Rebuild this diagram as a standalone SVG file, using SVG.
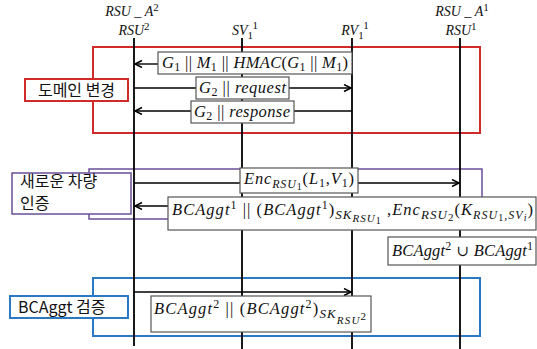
<svg xmlns="http://www.w3.org/2000/svg" width="537" height="349" viewBox="0 0 537 349">
<defs>
<style>
.m{font-family:"Liberation Serif",serif;font-size:16.5px;font-style:italic;fill:#111}
.h{font-family:"Liberation Serif",serif;font-size:14px;font-style:italic;fill:#111}
.u{font-style:normal}
.kr{font-family:"Noto Sans CJK KR","Noto Sans",sans-serif;font-size:16px;fill:#111}
.life{stroke:#000;stroke-width:1.8;fill:none}
.msg{stroke:#000;stroke-width:1.4;fill:none}
.box{fill:#fff;stroke:#555;stroke-width:1.2}
</style>
<marker id="ah" markerWidth="10" markerHeight="10" refX="8" refY="4" orient="auto" markerUnits="userSpaceOnUse">
<path d="M1,0.5 L8,4 L1,7.5" fill="none" stroke="#000" stroke-width="1.5"/>
</marker>
</defs>
<rect width="537" height="349" fill="#fff"/>

<g id="headers">
<text class="h" x="132" y="16" text-anchor="middle">RSU<tspan class="u"> _ </tspan>A<tspan font-size="11" dy="-5" class="u">2</tspan></text>
<text class="h" x="134" y="35" text-anchor="middle">RSU<tspan font-size="11" dy="-5" class="u">2</tspan></text>
<text class="h" x="245" y="35" text-anchor="middle">SV<tspan font-size="11" dy="4" class="u">1</tspan><tspan font-size="11" dy="-10" class="u">1</tspan></text>
<text class="h" x="355" y="35" text-anchor="middle">RV<tspan font-size="11" dy="4" class="u">1</tspan><tspan font-size="11" dy="-10" class="u">1</tspan></text>
<text class="h" x="462" y="16" text-anchor="middle">RSU<tspan class="u"> _ </tspan>A<tspan font-size="11" dy="-5" class="u">1</tspan></text>
<text class="h" x="461" y="35" text-anchor="middle">RSU<tspan font-size="11" dy="-5" class="u">1</tspan></text>
</g>

<g id="groups">
<rect id="grp-domain" x="93" y="47" width="387" height="86" fill="none" stroke="#d02a2a" stroke-width="2"/>
<rect id="grp-auth" x="89" y="169" width="393" height="50" fill="none" stroke="#6a4f96" stroke-width="1.5"/>
<rect id="grp-verify" x="93" y="278" width="387" height="58" fill="none" stroke="#2b79c4" stroke-width="2"/>
</g>

<g id="lifelines">
<line class="life" x1="134" y1="38" x2="134" y2="346"/>
<line class="life" x1="242" y1="38" x2="242" y2="349"/>
<line class="life" x1="352" y1="38" x2="352" y2="349"/>
<line class="life" x1="460" y1="38" x2="460" y2="349"/>
</g>

<g id="connectors">
<line class="msg" x1="158" y1="64" x2="135" y2="64" marker-end="url(#ah)"/>
<line class="msg" x1="134" y1="88" x2="196" y2="88"/>
<line class="msg" x1="289" y1="88" x2="351" y2="88" marker-end="url(#ah)"/>
<line class="msg" x1="352" y1="111" x2="294" y2="111"/>
<line class="msg" x1="191" y1="111" x2="135" y2="111" marker-end="url(#ah)"/>
<line class="msg" x1="134" y1="183" x2="240" y2="183"/>
<line class="msg" x1="358" y1="183" x2="459" y2="183" marker-end="url(#ah)"/>
<line class="msg" x1="168" y1="206" x2="135" y2="206" marker-end="url(#ah)"/>
<line class="msg" x1="134" y1="292" x2="351" y2="292" marker-end="url(#ah)"/>
</g>

<g id="label-domain">
<rect x="25" y="79" width="103" height="22" fill="#fff" stroke="#d02a2a" stroke-width="2"/>
<text class="kr" x="76.5" y="96" text-anchor="middle">도메인 변경</text>
</g>
<g id="label-auth">
<rect x="12" y="173" width="119" height="41" fill="#fff" stroke="#6a4f96" stroke-width="1.5"/>
<text class="kr" x="20" y="187" font-size="15.5">새로운 차량</text>
<text class="kr" x="20" y="209" font-size="15.5">인증</text>
</g>
<g id="label-verify">
<rect x="10" y="296" width="118" height="22" fill="#fff" stroke="#2b79c4" stroke-width="2"/>
<text class="kr" x="18" y="313">BCAggt 검증</text>
</g>

<g id="msg1">
<rect class="box" x="158" y="52" width="194" height="22"/>
<text class="m" x="162" y="68" textLength="186" lengthAdjust="spacing">G<tspan class="u" font-size="12" dy="3">1</tspan><tspan class="u" dy="-3"> || </tspan>M<tspan class="u" font-size="12" dy="3">1</tspan><tspan class="u" dy="-3"> || </tspan>HMAC<tspan class="u">(</tspan>G<tspan class="u" font-size="12" dy="3">1</tspan><tspan class="u" dy="-3"> || </tspan>M<tspan class="u" font-size="12" dy="3">1</tspan><tspan class="u" dy="-3">)</tspan></text>
</g>
<g id="msg2">
<rect class="box" x="196" y="77" width="93" height="22"/>
<text class="m" x="199" y="93" textLength="87" lengthAdjust="spacing">G<tspan class="u" font-size="12" dy="3">2</tspan><tspan class="u" dy="-3"> || </tspan>request</text>
</g>
<g id="msg3">
<rect class="box" x="191" y="101" width="103" height="22"/>
<text class="m" x="194" y="117" textLength="96" lengthAdjust="spacing">G<tspan class="u" font-size="12" dy="3">2</tspan><tspan class="u" dy="-3"> || </tspan>response</text>
</g>
<g id="msg4">
<rect class="box" x="240" y="168" width="118" height="25"/>
<text class="m" x="244" y="184" textLength="110" lengthAdjust="spacing">Enc<tspan font-size="12" dy="4">RSU</tspan><tspan class="u" font-size="10" dy="2">1</tspan><tspan class="u" dy="-6">(</tspan>L<tspan class="u" font-size="12" dy="3">1</tspan><tspan class="u" dy="-3">,</tspan>V<tspan class="u" font-size="12" dy="3">1</tspan><tspan class="u" dy="-3">)</tspan></text>
</g>
<g id="msg5">
<rect class="box" x="168" y="197" width="368" height="33"/>
<text class="m" x="172" y="215" textLength="361" lengthAdjust="spacing">BCAggt<tspan class="u" font-size="12" dy="-6">1</tspan><tspan class="u" dy="6"> || (</tspan>BCAggt<tspan class="u" font-size="12" dy="-6">1</tspan><tspan class="u" dy="6">)</tspan><tspan font-size="13" dy="4">SK</tspan><tspan font-size="11" dy="3">RSU</tspan><tspan class="u" font-size="10" dy="2">1</tspan><tspan class="u" dy="-9"> ,</tspan>Enc<tspan font-size="13" dy="4">RSU</tspan><tspan class="u" font-size="11" dy="2">2</tspan><tspan class="u" dy="-6">(</tspan>K<tspan font-size="12" dy="4">RSU</tspan><tspan class="u" font-size="10" dy="2">1</tspan><tspan font-size="12" dy="-2">,SV</tspan><tspan font-size="10" dy="2">i</tspan><tspan class="u" dy="-6">)</tspan></text>
</g>
<g id="msg6">
<rect class="box" x="388" y="237" width="148" height="28"/>
<text class="m" x="392" y="256" textLength="141" lengthAdjust="spacing">BCAggt<tspan class="u" font-size="12" dy="-6">2</tspan><tspan class="u" font-family="'DejaVu Serif',serif" font-size="15" dy="6"> ∪ </tspan>BCAggt<tspan class="u" font-size="12" dy="-6">1</tspan></text>
</g>
<g id="msg7">
<rect class="box" x="151" y="296" width="220" height="36"/>
<text class="m" x="154" y="314" textLength="212" lengthAdjust="spacing">BCAggt<tspan class="u" font-size="12" dy="-6">2</tspan><tspan class="u" dy="6"> || (</tspan>BCAggt<tspan class="u" font-size="12" dy="-6">2</tspan><tspan class="u" dy="6">)</tspan><tspan font-size="13" dy="4">SK</tspan><tspan font-size="11" dy="6">RSU</tspan><tspan class="u" font-size="11" dy="-4">2</tspan></text>
</g>
</svg>
